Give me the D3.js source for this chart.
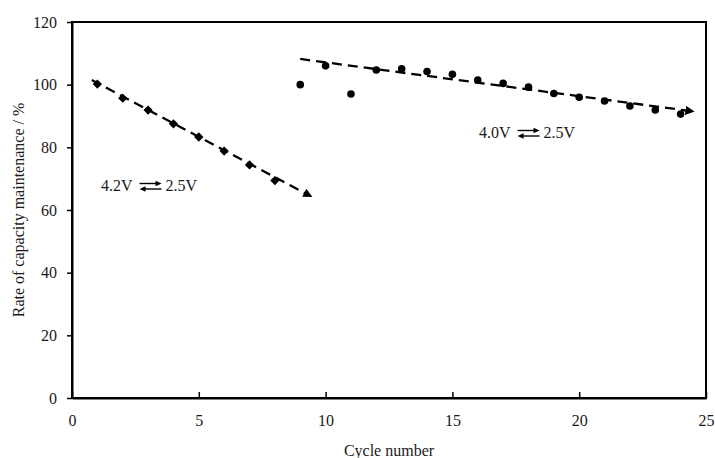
<!DOCTYPE html>
<html><head><meta charset="utf-8">
<script src="https://cdn.jsdelivr.net/npm/d3@7"></script>
<style>body{margin:0;background:#fff}svg{display:block}svg text{font-family:'Liberation Serif','Times New Roman',serif}</style>
</head><body><svg id="c" width="715" height="458"></svg>
<script>
// ---- data ----
const cycles42 = [1, 2, 3, 4, 5, 6, 7, 8];
const values42 = [100.2, 95.7, 91.9, 87.5, 83.3, 78.8, 74.4, 69.4];
const cycles40 = [9, 10, 11, 12, 13, 14, 15, 16, 17, 18, 19, 20, 21, 22, 23, 24];
const values40 = [100.0, 106.0, 97.0, 104.7, 105.1, 104.2, 103.3, 101.5, 100.4, 99.2, 97.2, 96.0, 94.8, 93.2, 91.9, 90.6];
const trend42X = [0.78, 9.32];
const trend42Y = [101.5, 64.8];
const trend40X = [9.0, 24.37];
const trend40Y = [108.2, 91.6];
const xTicks = [0, 5, 10, 15, 20, 25];
const yTicks = [0, 20, 40, 60, 80, 100, 120];
const xTitle = "Cycle number";
const yTitle = "Rate of capacity maintenance / %";
const labelLeft = ["4.2V", "2.5V"];
const labelRight = ["4.0V", "2.5V"];

// ---- layout ----
const svg = d3.select("#c");
const L = 72, R = 706, T = 22, B = 398;
const x = d3.scaleLinear().domain([0, 25]).range([L, R]);
const y = d3.scaleLinear().domain([0, 120]).range([B, T]);
const font = "'Liberation Serif','Times New Roman',serif";
const ink = "#1a1a1a";

svg.append("defs").append("marker")
  .attr("id", "tri").attr("viewBox", "0 0 10 10")
  .attr("refX", 5).attr("refY", 5)
  .attr("markerWidth", 4).attr("markerHeight", 4)
  .attr("orient", "auto").attr("markerUnits", "strokeWidth")
  .append("path").attr("d", "M0,0L10,5L0,10Z").attr("fill", "#000");

// frame
svg.append("rect").attr("x", L).attr("y", T).attr("width", R - L).attr("height", B - T)
  .attr("fill", "none").attr("stroke", "#000").attr("stroke-width", 2);

// axes
const gx = svg.append("g").attr("transform", `translate(0,${B})`)
  .call(d3.axisBottom(x).tickValues(xTicks).tickSizeInner(-6).tickSizeOuter(0).tickPadding(17));
const gy = svg.append("g").attr("transform", `translate(${L},0)`)
  .call(d3.axisLeft(y).tickValues(yTicks).tickSizeInner(5).tickSizeOuter(0).tickPadding(10));
[gx, gy].forEach(g => {
  g.attr("font-family", null).attr("font-size", null);
  g.select(".domain").attr("stroke", "#000").attr("stroke-width", 2);
  g.selectAll(".tick line").attr("stroke", "#000").attr("stroke-width", 1.5);
  g.selectAll(".tick text").style("font-family", font).style("font-size", "16px").attr("fill", ink);
});

// titles
svg.append("text").attr("x", (L + R) / 2).attr("y", 456).attr("text-anchor", "middle")
  .style("font-family", font).style("font-size", "16px").attr("fill", ink).text(xTitle);
svg.append("text").attr("transform", `translate(24,${(T + B) / 2}) rotate(-90)`)
  .attr("text-anchor", "middle").style("font-family", font).style("font-size", "16px").attr("fill", ink).text(yTitle);

// trend lines
const line = d3.line().x(d => x(d[0])).y(d => y(d[1]));
[[trend42X, trend42Y], [trend40X, trend40Y]].forEach(([tx, ty]) => {
  svg.append("path").datum(d3.zip(tx, ty)).attr("d", line)
    .attr("fill", "none").attr("stroke", "#000").attr("stroke-width", 2.3)
    .attr("stroke-dasharray", "10,6").attr("marker-end", "url(#tri)");
});

// markers
svg.append("g").selectAll("path").data(d3.zip(cycles42, values42)).join("path")
  .attr("transform", d => `translate(${x(d[0])},${y(d[1])})`)
  .attr("d", d3.symbol(d3.symbolDiamond2, 55)).attr("fill", "#000");
svg.append("g").selectAll("circle").data(d3.zip(cycles40, values40)).join("circle")
  .attr("cx", d => x(d[0])).attr("cy", d => y(d[1])).attr("r", 3.8).attr("fill", "#000");

// annotation labels
function annot(x0, base, texts) {
  const g = svg.append("g");
  const t1 = g.append("text").attr("x", x0).attr("y", base).style("font-family", font)
    .style("font-size", "16px").attr("fill", ink).text(texts[0]);
  const w1 = t1.node().getComputedTextLength();
  const a0 = x0 + w1 + 7, a1 = a0 + 22;
  const yu = base - 7.5, yl = base - 2;
  g.append("line").attr("x1", a0).attr("x2", a1 - 4).attr("y1", yu).attr("y2", yu).attr("stroke", "#000").attr("stroke-width", 1.4);
  g.append("path").attr("d", `M${a1},${yu}L${a1 - 6},${yu - 2.8}L${a1 - 6},${yu + 2.8}Z`).attr("fill", "#000");
  g.append("line").attr("x1", a0 + 4).attr("x2", a1).attr("y1", yl).attr("y2", yl).attr("stroke", "#000").attr("stroke-width", 1.4);
  g.append("path").attr("d", `M${a0},${yl}L${a0 + 6},${yl - 2.8}L${a0 + 6},${yl + 2.8}Z`).attr("fill", "#000");
  g.append("text").attr("x", a1 + 4).attr("y", base).style("font-family", font)
    .style("font-size", "16px").attr("fill", ink).text(texts[1]);
}
annot(101, 191, labelLeft);
annot(479, 138, labelRight);
</script></body></html>
